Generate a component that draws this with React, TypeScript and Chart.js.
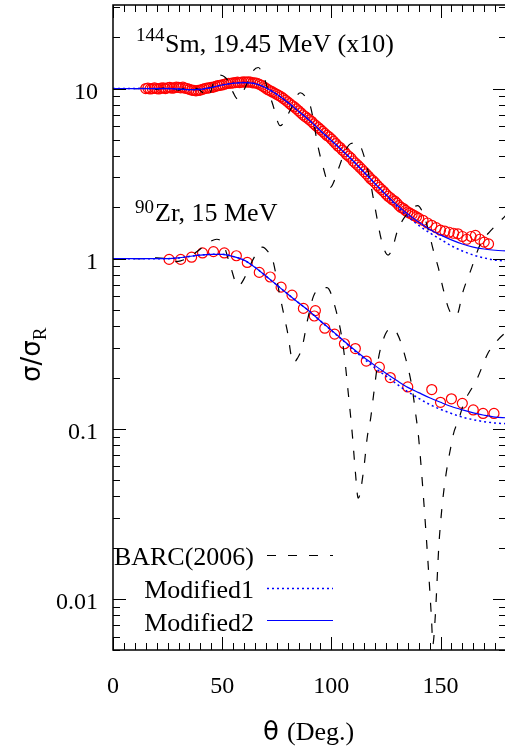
import React, { useEffect, useRef } from "react";
import { Chart, registerables } from "chart.js";
Chart.register(...registerables);

// ---------------- data ----------------
const smExpAngles = [15,16,17,18,19,20,21,22,23,24,25,26,27,28,29,30,31,32,33,34,35,36,37,38,39,40,41,42,43,44,45,46,47,48,49,50,51,52,53,54,55,56,57,58,59,60,61,62,63,64,65,66,67,68,69,70,71,72,73,74,75,76,77,78,79,80,81,82,83,84,85,86,87,88,89,90,91,92,93,94,95,96,97,98,99,100,101,102,103,104,105,106,107,108,109,110,111,112,113,114,115,116,117,118,119,120,121,122,123,124,125,126,127,128,129,130,131,132,133,134,135,136,137,138,139,140,142,144,146,148,150,152,154,156,158,160,162,164,166,168,170,172];
const smExpValues = [10.0,10.05,9.95,10.0,10.1,10.0,9.95,10.05,10.1,10.0,10.1,10.15,10.05,10.1,10.2,10.15,10.1,10.2,10.05,10.0,9.9,9.8,9.75,9.7,9.75,9.8,9.9,10.0,10.05,10.1,10.15,10.2,10.3,10.4,10.45,10.5,10.6,10.7,10.75,10.75,10.8,10.85,10.9,10.85,10.9,10.95,10.9,10.95,10.9,10.8,10.8,10.75,10.6,10.45,10.25,10.05,9.85,9.7,9.55,9.4,9.25,9.1,8.95,8.75,8.55,8.35,8.15,7.95,7.8,7.6,7.4,7.2,7.0,6.85,6.7,6.55,6.4,6.2,6.05,5.9,5.75,5.6,5.45,5.3,5.2,5.05,4.9,4.75,4.6,4.5,4.35,4.25,4.1,4.0,3.9,3.75,3.65,3.55,3.45,3.35,3.25,3.15,3.05,2.95,2.88,2.8,2.7,2.62,2.55,2.48,2.4,2.33,2.28,2.22,2.18,2.12,2.05,2.0,1.97,1.92,1.88,1.85,1.82,1.79,1.76,1.73,1.68,1.62,1.57,1.52,1.47,1.45,1.43,1.41,1.4,1.35,1.3,1.35,1.37,1.3,1.25,1.22];

const zrExpAngles = [25.7,31,36,41,46,51,56.5,61.5,67,72,77,82,87.2,92.7,92.2,97,101.5,106,111,116,122,127,135,146,150,155,160,165,169.5,174.5];
const zrExpValues = [0.99,0.99,1.02,1.08,1.1,1.08,1.04,0.95,0.83,0.78,0.68,0.61,0.51,0.495,0.46,0.39,0.36,0.316,0.296,0.25,0.23,0.2,0.176,0.17,0.143,0.15,0.141,0.129,0.123,0.123];

const barcSmAngles = [0,5,10,15,20,25,30,35,39,41,43.5,46.5,49,52.5,55,57,59,61.5,64,66.5,69,71,73,76.6,78.5,81,85.8,88,90.4,94,96.3,99.5,101,103,106.4,109,112,115.6,118,120,123.4,126,128,130.3,135,139.5,142,144.5,146.8,149,151.4,153.7,156,158,160,163.8,168.3,173,177.5,180];
const barcSmValues = [10,10,10,10.05,9.9,10.2,9.8,10.25,9.9,9.5,8.9,11.2,12.0,11.2,9.5,8.7,9.3,10.8,12.6,13.3,11.8,9.8,8.2,6.05,6.4,7.4,9.45,9.0,7.9,4.5,3.43,2.62,2.8,3.3,4.3,4.75,4.8,3.77,2.76,2.0,1.22,1.05,1.15,1.46,1.85,2.05,1.85,1.46,1.11,0.885,0.65,0.51,0.46,0.48,0.62,0.85,1.22,1.46,1.67,1.8];

const barcZrAngles = [0,5,10,15,20,24,27.5,31,35,40,44.5,47.5,50.5,53.7,57.3,60,62,66.5,68.5,71,73,76.6,79.8,82.6,84.5,86.6,89,91.8,95,98,101.8,105.5,107.8,109.6,111,112.3,114.7,116.5,118,119.4,121.6,124.8,127.5,130.3,134,137,138.6,140,143.5,145.9,146.5,147.5,149.5,155.5,158.3,161,164,167,171.6,176,180];
const barcZrValues = [1.0,1.0,1.0,1.0,1.01,1.0,0.96,0.97,1.02,1.14,1.26,1.3,1.22,0.91,0.69,0.76,0.87,1.11,1.17,1.1,1.0,0.59,0.377,0.244,0.26,0.3,0.43,0.6,0.67,0.675,0.515,0.3,0.16,0.093,0.056,0.039,0.056,0.09,0.115,0.16,0.26,0.36,0.39,0.36,0.26,0.174,0.123,0.088,0.023,0.0075,0.0054,0.0075,0.023,0.088,0.113,0.145,0.17,0.2,0.276,0.33,0.37];

const modelAngles = [0,5,10,15,20,25,30,35,40,45,50,55,60,65,70,75,80,85,90,95,100,105,110,115,120,125,130,135,140,145,150,155,160,165,170,175,180];
const mod2SmValues = [10,10,10,10,10,10,9.95,9.85,9.9,10.15,10.5,10.75,10.85,10.7,10.1,9.25,8.3,7.35,6.5,5.65,4.95,4.32,3.75,3.22,2.76,2.38,2.07,1.83,1.64,1.49,1.38,1.29,1.22,1.17,1.14,1.12,1.11];
const mod1SmValues = [10,10,10,10,10,10,9.95,9.85,9.9,10.15,10.5,10.75,10.85,10.7,10.1,9.25,8.3,7.35,6.5,5.65,4.95,4.32,3.75,3.22,2.76,2.36,2.03,1.77,1.57,1.42,1.3,1.19,1.11,1.05,1.01,0.98,0.97];
const mod2ZrValues = [1,1,1,1,1,1.0,1.01,1.03,1.05,1.06,1.06,1.03,0.98,0.89,0.79,0.7,0.62,0.55,0.49,0.43,0.38,0.335,0.295,0.262,0.235,0.212,0.192,0.175,0.163,0.152,0.143,0.135,0.129,0.124,0.12,0.117,0.116];
const mod1ZrValues = [1,1,1,1,1,1.0,1.01,1.03,1.05,1.06,1.06,1.03,0.98,0.89,0.79,0.7,0.62,0.55,0.49,0.43,0.378,0.333,0.292,0.257,0.228,0.204,0.183,0.165,0.151,0.139,0.13,0.123,0.117,0.113,0.11,0.108,0.107];

const xTickValues = [0, 50, 100, 150];
const xTickLabels = ["0", "50", "100", "150"];
const yTickValues = [0.01, 0.1, 1, 10];
const yTickLabels = ["0.01", "0.1", "1", "10"];
const legendLabels = ["BARC(2006)", "Modified1", "Modified2"];

const X_MIN = 0, X_MAX = 180, Y_MIN = 0.005, Y_MAX = 31;

const pts = (xs: number[], ys: number[]) => xs.map((x, i) => ({ x, y: ys[i] }));

const SERIF = '"Liberation Serif", "Times New Roman", serif';
const SANS = '"DejaVu Sans", sans-serif';

const decorPlugin = {
  id: "decor",
  afterDraw(chart: any) {
    const { ctx, chartArea: a, scales } = chart;
    const xs = scales.x, ys = scales.y;
    ctx.save();
    ctx.strokeStyle = "#000";
    ctx.fillStyle = "#000";
    const seg = (x1: number, y1: number, x2: number, y2: number) => {
      ctx.beginPath(); ctx.moveTo(x1, y1); ctx.lineTo(x2, y2); ctx.stroke();
    };
    // ticks
    ctx.lineWidth = 1;
    for (let v = X_MIN; v <= X_MAX; v += 5) {
      const px = Math.round(xs.getPixelForValue(v)) + 0.5;
      const len = v % 50 === 0 ? 13 : 7;
      seg(px, a.bottom, px, a.bottom - len);
      seg(px, a.top, px, a.top + len);
    }
    for (let e = -3; e <= 1; e++) {
      for (let m = 1; m <= 9; m++) {
        const v = m * Math.pow(10, e);
        if (v < Y_MIN * 0.999 || v > Y_MAX) continue;
        const py = Math.round(ys.getPixelForValue(v)) + 0.5;
        const len = m === 1 ? 13 : 7;
        seg(a.left, py, a.left + len, py);
        seg(a.right, py, a.right - len, py);
      }
    }
    // frame
    ctx.lineWidth = 1.5;
    ctx.strokeRect(a.left, a.top, a.right - a.left, a.bottom - a.top);

    // tick labels
    ctx.font = `24px ${SERIF}`;
    ctx.textBaseline = "alphabetic";
    ctx.textAlign = "center";
    xTickValues.forEach((v, i) => ctx.fillText(xTickLabels[i], xs.getPixelForValue(v), 693));
    ctx.textAlign = "right";
    yTickValues.forEach((v, i) => ctx.fillText(yTickLabels[i], 98, ys.getPixelForValue(v) + 10));

    // annotations
    ctx.textAlign = "left";
    ctx.font = `19px ${SERIF}`;
    ctx.fillText("144", 136, 41);
    ctx.fillText("90", 135, 213);
    ctx.font = `26px ${SERIF}`;
    ctx.fillText("Sm, 19.45 MeV (x10)", 165, 52);
    ctx.fillText("Zr, 15 MeV", 155, 221);

    // legend
    ctx.textAlign = "right";
    const lb = [565, 598, 631];
    const ly = [555, 588, 620];
    legendLabels.forEach((t, i) => ctx.fillText(t, 254, lb[i]));
    const styles = [
      { c: "#000", w: 1.2, d: [9, 12] },
      { c: "#0000ff", w: 1.5, d: [2, 3] },
      { c: "#0000ff", w: 1.2, d: [] as number[] },
    ];
    styles.forEach((s, i) => {
      ctx.strokeStyle = s.c; ctx.lineWidth = s.w; ctx.setLineDash(s.d);
      seg(267, ly[i] + 0.5, 333, ly[i] + 0.5);
    });
    ctx.setLineDash([]);

    // axis titles
    ctx.fillStyle = "#000";
    ctx.textAlign = "left";
    ctx.font = `26px ${SANS}`;
    ctx.fillText("θ", 263, 740);
    ctx.font = `26px ${SERIF}`;
    ctx.fillText("(Deg.)", 287, 740);

    ctx.translate(40, 382);
    ctx.rotate(-Math.PI / 2);
    ctx.font = `26px ${SANS}`;
    const main = "σ/σ";
    ctx.fillText(main, 0, 0);
    const w = ctx.measureText(main).width;
    ctx.font = `19px ${SERIF}`;
    ctx.fillText("R", w, 6);
    ctx.restore();
  },
};

export default function App() {
  const ref = useRef<HTMLCanvasElement | null>(null);
  useEffect(() => {
    if (!ref.current) return;
    const lineDs = (label: string, xs: number[], ys: number[], color: string, width: number, dash: number[]) => ({
      label,
      data: pts(xs, ys),
      showLine: true,
      borderColor: color,
      borderWidth: width,
      borderDash: dash,
      pointRadius: 0,
      pointHoverRadius: 0,
      fill: false,
      cubicInterpolationMode: "monotone" as const,
    });
    const ptDs = (label: string, xs: number[], ys: number[]) => ({
      label,
      data: pts(xs, ys),
      showLine: false,
      pointStyle: "circle",
      pointRadius: 5,
      pointBorderWidth: 1.2,
      borderColor: "#ff0000",
      backgroundColor: "rgba(0,0,0,0)",
      pointBackgroundColor: "rgba(0,0,0,0)",
      pointBorderColor: "#ff0000",
    });
    const chart = new Chart(ref.current, {
      type: "scatter",
      data: {
        datasets: [
          lineDs("Modified2 Sm", modelAngles, mod2SmValues, "#0000ff", 1.2, []),
          lineDs("Modified2 Zr", modelAngles, mod2ZrValues, "#0000ff", 1.2, []),
          lineDs("Modified1 Sm", modelAngles, mod1SmValues, "#0000ff", 1.5, [2, 3]),
          lineDs("Modified1 Zr", modelAngles, mod1ZrValues, "#0000ff", 1.5, [2, 3]),
          lineDs("BARC Sm", barcSmAngles, barcSmValues, "#000000", 1.2, [9, 12]),
          lineDs("BARC Zr", barcZrAngles, barcZrValues, "#000000", 1.2, [9, 12]),
          ptDs("Exp Sm", smExpAngles, smExpValues),
          ptDs("Exp Zr", zrExpAngles, zrExpValues),
        ] as any,
      },
      options: {
        animation: false,
        responsive: false,
        maintainAspectRatio: false,
        layout: { padding: { top: 5, left: 0, right: 0, bottom: 0 }, autoPadding: false },
        plugins: { legend: { display: false }, tooltip: { enabled: false } },
        scales: {
          x: {
            type: "linear",
            min: X_MIN,
            max: X_MAX,
            grid: { display: false },
            border: { display: false },
            ticks: { display: false },
            afterFit: (s: any) => { s.height = 99; },
          },
          y: {
            type: "logarithmic",
            min: Y_MIN,
            max: Y_MAX,
            grid: { display: false },
            border: { display: false },
            ticks: { display: false },
            afterFit: (s: any) => { s.width = 113; },
          },
        },
      } as any,
      plugins: [decorPlugin],
    });
    return () => chart.destroy();
  }, []);
  return (
    <div style={{ position: "absolute", left: 0, top: 0, width: 505, height: 749, overflow: "hidden", background: "#fff" }}>
      <canvas ref={ref} width={506} height={749} style={{ width: 506, height: 749, display: "block" }} />
    </div>
  );
}
